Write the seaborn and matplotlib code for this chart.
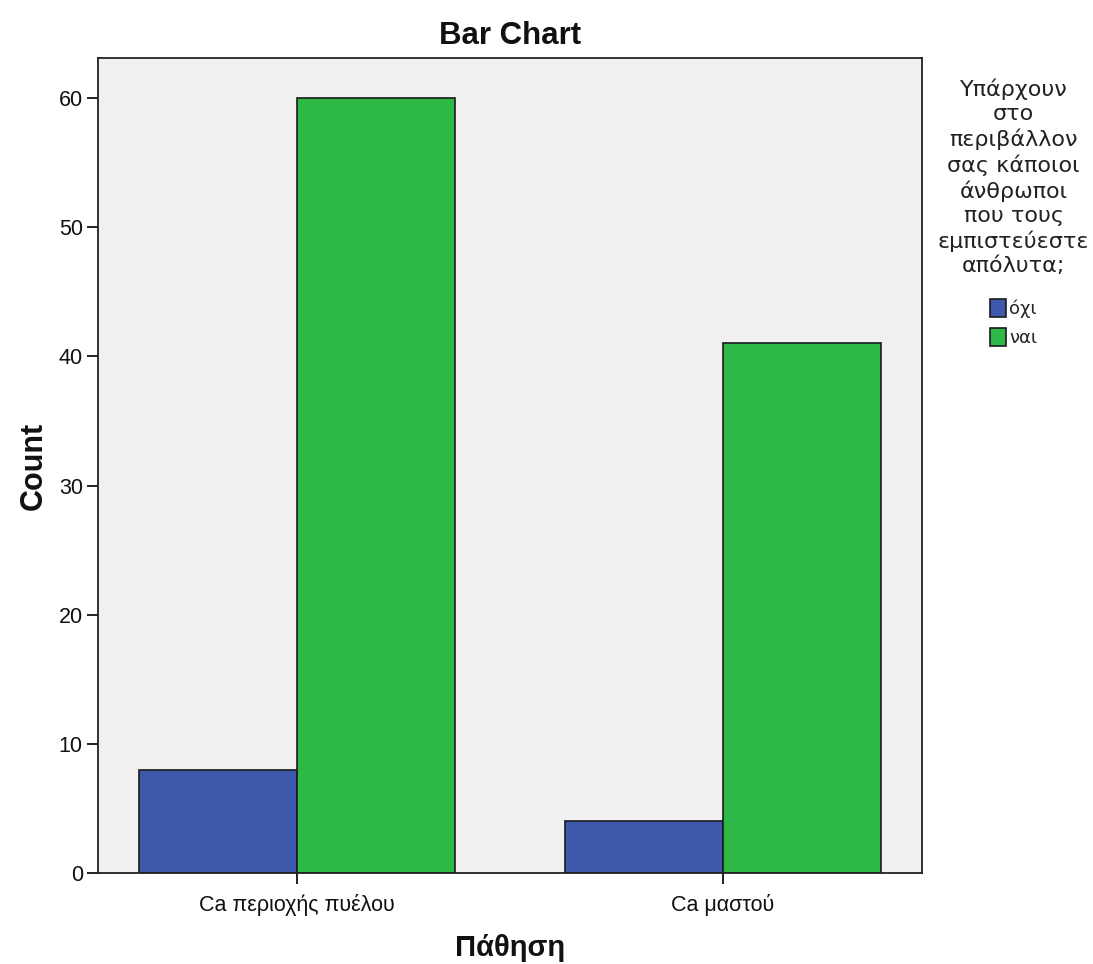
import pandas as pd
import matplotlib.pyplot as plt
import seaborn as sns

conditions = ["Ca περιοχής πυέλου", "Ca μαστού"]
answers = ["όχι", "ναι"]
counts_no = [8, 4]
counts_yes = [60, 41]

df = pd.DataFrame({
    "condition": conditions * 2,
    "answer": [answers[0]] * 2 + [answers[1]] * 2,
    "count": counts_no + counts_yes,
})

sns.set_style("white")
plt.rcParams["font.family"] = ["Liberation Sans", "DejaVu Sans"]

fig = plt.figure(figsize=(10.93, 9.64), dpi=100)
ax = fig.add_axes([0.0897, 0.0944, 0.7539, 0.8454])
ax.set_facecolor("#f0f0f0")

sns.barplot(x="condition", y="count", hue="answer", data=df, ax=ax,
            order=conditions, hue_order=answers,
            palette=["#3e58ac", "#2eb848"], width=0.74,
            edgecolor="#1a1a1a", linewidth=1.2, saturation=1)

ax.set_xlim(-0.467, 1.467)
ax.set_ylim(0, 63.1)
ax.set_yticks([0, 10, 20, 30, 40, 50, 60])
ax.tick_params(axis="both", direction="out", length=8, width=1.4,
               labelsize=15.5, left=True, bottom=True, color="#222222",
               labelcolor="#111111", pad=3)
ax.tick_params(axis="x", pad=7)
for s in ax.spines.values():
    s.set_color("#222222")
    s.set_linewidth(1.3)

ax.set_title("Bar Chart", fontsize=22.5, fontweight="bold", pad=10, color="#111111")
ax.set_ylabel("Count", fontsize=22, fontweight="bold", labelpad=7, color="#111111")
ax.set_xlabel("Πάθηση", fontsize=21, fontweight="bold", labelpad=13, color="#111111")

leg_title = ("Υπάρχουν\nστο\nπεριβάλλον\nσας κάποιοι\nάνθρωποι\n"
             "που τους\nεμπιστεύεστε\nαπόλυτα;")
leg = ax.legend(title=leg_title, loc="upper center",
                bbox_to_anchor=(1.111, 0.99), frameon=False,
                prop={"family": "DejaVu Sans", "size": 13},
                title_fontproperties={"family": "DejaVu Sans", "size": 16},
                alignment="center",
                handlelength=0.9, handleheight=1.1, handletextpad=0.2,
                labelspacing=0.55, borderpad=0.2)
leg.get_title().set_multialignment("center")
leg.get_title().set_linespacing(1.25)
leg.get_title().set_color("#222222")
leg._legend_box.sep = 17

fig.savefig("out.png", dpi=100)
